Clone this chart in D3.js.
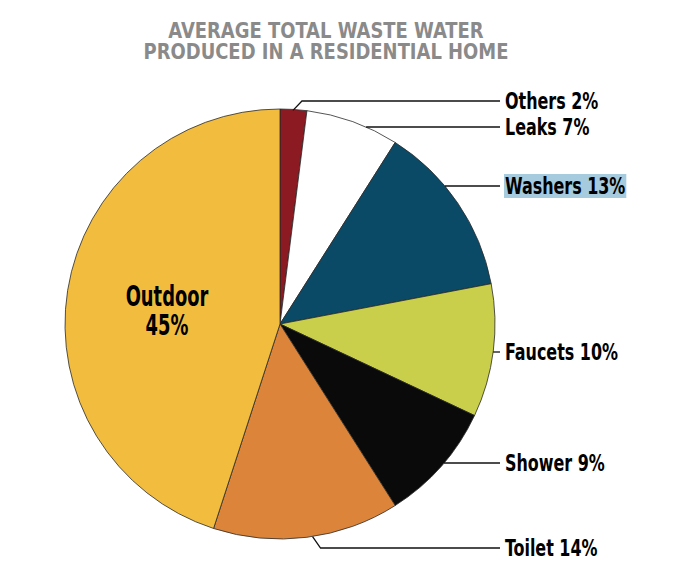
<!DOCTYPE html>
<html><head><meta charset="utf-8">
<script src="https://cdn.jsdelivr.net/npm/d3@7"></script>
<style>
body{margin:0;background:#fff;}
text{font-family:"DejaVu Sans Condensed","Liberation Sans Narrow",sans-serif;font-weight:bold;}
</style></head>
<body><svg id="c" width="689" height="587"></svg>
<script>
const categories = ["Others","Leaks","Washers","Faucets","Shower","Toilet","Outdoor"];
const values = [2,7,13,10,9,14,45];
const colors = ["#8b1a22","#ffffff","#0b4a66","#c9cf4a","#0a0a0a","#dc843a","#f2bd3f"];
const titleLines = ["AVERAGE TOTAL WASTE WATER","PRODUCED IN A RESIDENTIAL HOME"];
// label layout (y of leader line / label) for outside labels
const labelY = {Others:101, Leaks:127, Washers:186, Faucets:352, Shower:463, Toilet:548};
const highlight = "Washers";

const svg = d3.select("#c");
const cx = 280, cy = 324, R = 215;
const g = svg.append("g").attr("transform",`translate(${cx},${cy})`);
const pie = d3.pie().sort(null).value(d=>d.v);
const data = pie(categories.map((c,i)=>({c, v:values[i], col:colors[i]})));
const arc = d3.arc().innerRadius(0).outerRadius(R);

g.selectAll("path").data(data).join("path")
  .attr("d",arc).attr("fill",d=>d.data.col)
  .attr("stroke","#2a2a2a").attr("stroke-width",0.8);

// title
svg.selectAll("text.title").data(titleLines).join("text")
  .attr("class","title")
  .attr("transform",(d,i)=>`translate(326,${38+i*21}) scale(0.95,1)`)
  .attr("text-anchor","middle").attr("fill","#8a8a8a")
  .style("font-size","21px").text(d=>d);

// outside labels
const lx = 505, lineEnd = 500, sx = 0.77;
data.filter(d=>d.data.c!=="Outdoor").forEach(d=>{
  const c = d.data.c, y = labelY[c];
  let pts;
  if(c==="Others"){
    const a = d.startAngle + 0.48*(d.endAngle-d.startAngle);
    const p = [cx+R*Math.sin(a), cy-R*Math.cos(a)+1];
    pts = [p,[p[0]+9,y],[lineEnd,y]];
  } else if(c==="Toilet"){
    const a = d.startAngle + 0.47*(d.endAngle-d.startAngle);
    const p = [cx+R*Math.sin(a), cy-R*Math.cos(a)];
    pts = [p,[p[0]+8,y],[lineEnd,y]];
  } else {
    const x = cx+Math.sqrt(Math.max(0,R*R-(y-cy)*(y-cy)));
    pts = [[x,y],[lineEnd,y]];
  }
  svg.append("path").attr("d",d3.line()(pts)).attr("fill","none")
    .attr("stroke","#111").attr("stroke-width",1.3);
  const t = svg.append("text").attr("transform",`translate(${lx},${y}) scale(${sx},1)`)
    .attr("dy","0.36em")
    .attr("fill","#000").style("font-size","23px")
    .text(`${c} ${d.data.v}%`);
  if(c===highlight){
    const bb = t.node().getBBox();
    svg.insert("rect","text").attr("x",lx-1).attr("y",y-12).attr("width",bb.width*sx+2).attr("height",24)
      .attr("fill","#a6cbde");
  }
});

// inside label for Outdoor
const od = data.find(d=>d.data.c==="Outdoor");
const it = svg.append("text").attr("transform","translate(167,306) scale(0.71,1)")
  .attr("text-anchor","middle").attr("fill","#000").style("font-size","28px");
it.append("tspan").attr("x",0).attr("dy",0).text(od.data.c);
it.append("tspan").attr("x",0).attr("dy",29).text(od.data.v+"%");
</script></body></html>
